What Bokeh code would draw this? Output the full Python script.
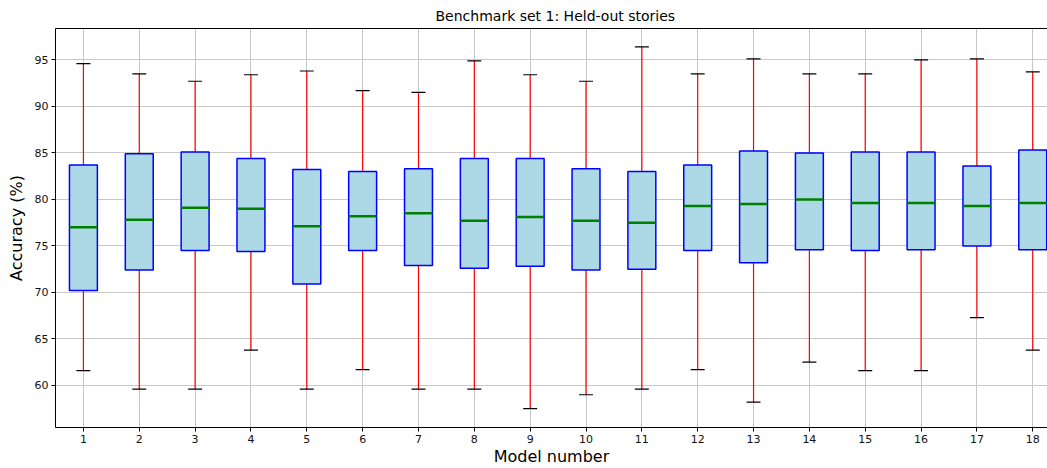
from bokeh.plotting import figure
from bokeh.models import LinearAxis, FixedTicker, Range1d, ColumnDataSource
from bokeh.embed import file_html
from bokeh.resources import INLINE

models = list(range(1, 19))
whisker_high = [94.6, 93.5, 92.7, 93.4, 93.8, 91.7, 91.5, 94.9, 93.4, 92.7, 96.4, 93.5, 95.1, 93.5, 93.5, 95.0, 95.1, 93.7]
q3 = [83.7, 84.9, 85.1, 84.4, 83.2, 83.0, 83.3, 84.4, 84.4, 83.3, 83.0, 83.7, 85.2, 85.0, 85.1, 85.1, 83.6, 85.3]
median = [77.0, 77.8, 79.1, 79.0, 77.1, 78.2, 78.5, 77.7, 78.1, 77.7, 77.5, 79.3, 79.5, 80.0, 79.6, 79.6, 79.3, 79.6]
q1 = [70.2, 72.4, 74.5, 74.4, 70.9, 74.5, 72.9, 72.6, 72.8, 72.4, 72.5, 74.5, 73.2, 74.6, 74.5, 74.6, 75.0, 74.6]
whisker_low = [61.6, 59.6, 59.6, 63.8, 59.6, 61.7, 59.6, 59.6, 57.5, 59.0, 59.6, 61.7, 58.2, 62.5, 61.6, 61.6, 67.3, 63.8]
y_ticks = [60, 65, 70, 75, 80, 85, 90, 95]

BOX_W = 0.5
CAP_W = 0.25
FONT = "DejaVu Sans"

src = ColumnDataSource(dict(
    x=models,
    xl=[m - BOX_W / 2 for m in models],
    xr=[m + BOX_W / 2 for m in models],
    cl=[m - CAP_W / 2 for m in models],
    cr=[m + CAP_W / 2 for m in models],
    hi=whisker_high, q3=q3, med=median, q1=q1, lo=whisker_low,
))

p = figure(width=1047, height=468, output_backend="svg", toolbar_location=None,
           x_range=Range1d(0.5, 18.264), y_range=Range1d(55.48, 98.37),
           min_border_left=55, min_border_right=0, min_border_top=27, min_border_bottom=40,
           title="Benchmark set 1: Held-out stories")
p.outline_line_color = None
p.background_fill_color = "white"
p.border_fill_color = "white"

p.title.align = "left"
p.title.offset = 380
p.title.text_font = FONT
p.title.text_font_size = "14px"
p.title.text_font_style = "normal"
p.title.text_color = "#000000"

# whiskers
p.segment(x0="x", y0="q3", x1="x", y1="hi", source=src, line_color="red", line_width=1.2)
p.segment(x0="x", y0="q1", x1="x", y1="lo", source=src, line_color="red", line_width=1.2)
# boxes
p.vbar(x="x", width=BOX_W, top="q3", bottom="q1", source=src,
       fill_color="#add8e6", line_color="#0000ff", line_width=1.5)
# medians
p.segment(x0="xl", y0="med", x1="xr", y1="med", source=src, line_color="#008000", line_width=2.5)
# caps
p.segment(x0="cl", y0="hi", x1="cr", y1="hi", source=src, line_color="black", line_width=1.2)
p.segment(x0="cl", y0="lo", x1="cr", y1="lo", source=src, line_color="black", line_width=1.2)

p.xaxis.ticker = FixedTicker(ticks=models)
p.yaxis.ticker = FixedTicker(ticks=y_ticks)
p.xaxis.axis_label = "Model number"
p.yaxis.axis_label = "Accuracy (%)"
for ax in (p.xaxis, p.yaxis):
    ax.axis_label_text_font = FONT
    ax.axis_label_text_font_size = "16px"
    ax.axis_label_text_font_style = "normal"
    ax.axis_label_text_color = "black"
    ax.major_label_text_font = FONT
    ax.major_label_text_font_size = "11px"
    ax.major_label_text_color = "#111111"
    ax.axis_line_color = "black"
    ax.axis_line_width = 1
    ax.major_tick_line_color = "black"
    ax.major_tick_out = 4
    ax.major_tick_in = 0
    ax.minor_tick_line_color = None
    ax.major_label_standoff = 3
p.xaxis.axis_label_standoff = 1
p.yaxis.axis_label_standoff = 6

top_axis = LinearAxis(ticker=FixedTicker(ticks=[]), major_label_text_font_size="0px",
                      axis_line_color="black", major_tick_line_color=None,
                      minor_tick_line_color=None)
p.add_layout(top_axis, "above")

p.xgrid.grid_line_color = "#c8c8c8"
p.ygrid.grid_line_color = "#c8c8c8"
p.xgrid.grid_line_width = 1
p.ygrid.grid_line_width = 1

open("out.html", "w").write(file_html(p, INLINE))
